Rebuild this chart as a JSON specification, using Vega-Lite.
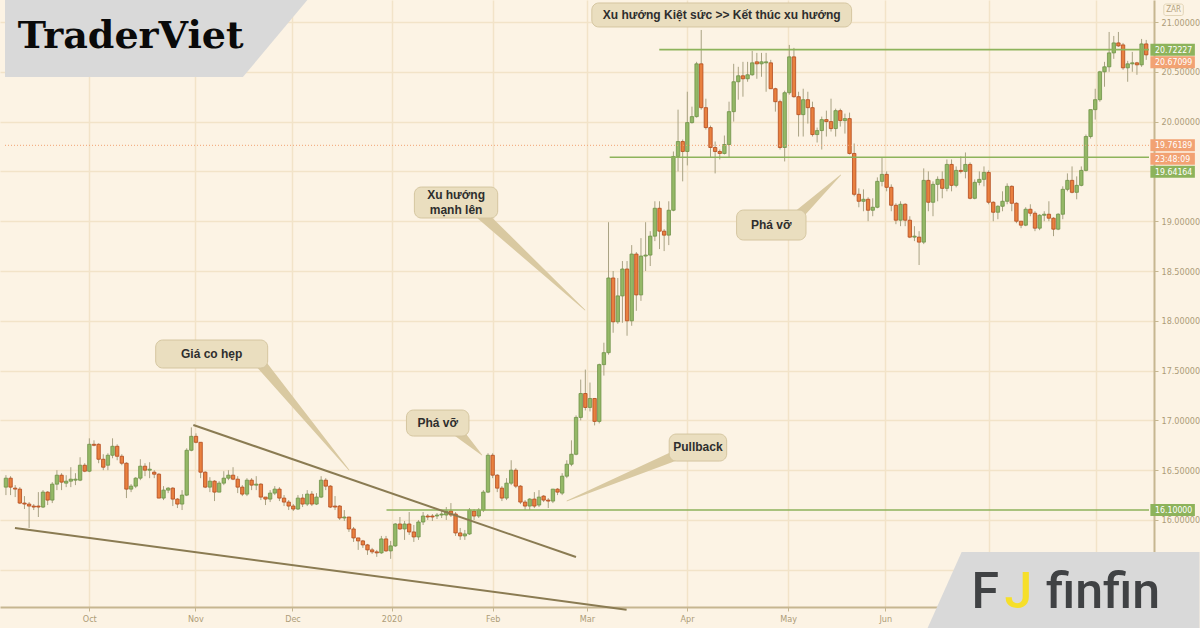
{
"$schema": "https://vega.github.io/schema/vega-lite/v6.json",
"width": 1154, "height": 607,
"autosize": {"type": "none"},
"padding": {"left": 0, "top": 0, "right": 46, "bottom": 21},
"background": "#fcf3e4",
"config": {"view": {"stroke": null}, "font": "Liberation Sans"},
"datasets": {
"candles": [
{"k":0,"o":16.33,"h":16.45,"l":16.25,"c":16.42},{"k":1,"o":16.42,"h":16.44,"l":16.25,"c":16.33},{"k":2,"o":16.32,"h":16.35,"l":16.23,"c":16.31},{"k":3,"o":16.31,"h":16.33,"l":16.16,"c":16.17},{"k":4,"o":16.17,"h":16.24,"l":16.11,"c":16.16},{"k":5,"o":16.16,"h":16.18,"l":15.92,"c":16.14},{"k":6,"o":16.14,"h":16.16,"l":16.1,"c":16.13},{"k":7,"o":16.14,"h":16.28,"l":16.03,"c":16.13},{"k":8,"o":16.13,"h":16.3,"l":16.12,"c":16.28},{"k":9,"o":16.28,"h":16.29,"l":16.15,"c":16.2},
{"k":10,"o":16.2,"h":16.38,"l":16.17,"c":16.36},{"k":11,"o":16.36,"h":16.5,"l":16.3,"c":16.45},{"k":12,"o":16.45,"h":16.47,"l":16.3,"c":16.38},{"k":13,"o":16.37,"h":16.45,"l":16.33,"c":16.39},{"k":14,"o":16.39,"h":16.53,"l":16.33,"c":16.41},{"k":15,"o":16.4,"h":16.47,"l":16.35,"c":16.41},{"k":16,"o":16.4,"h":16.63,"l":16.39,"c":16.55},{"k":17,"o":16.55,"h":16.57,"l":16.48,"c":16.49},{"k":18,"o":16.49,"h":16.82,"l":16.48,"c":16.76},{"k":19,"o":16.76,"h":16.8,"l":16.74,"c":16.75},
{"k":20,"o":16.76,"h":16.77,"l":16.57,"c":16.61},{"k":21,"o":16.61,"h":16.66,"l":16.5,"c":16.53},{"k":22,"o":16.55,"h":16.67,"l":16.5,"c":16.65},{"k":23,"o":16.65,"h":16.82,"l":16.62,"c":16.74},{"k":24,"o":16.74,"h":16.76,"l":16.6,"c":16.64},{"k":25,"o":16.64,"h":16.66,"l":16.55,"c":16.57},{"k":26,"o":16.57,"h":16.58,"l":16.22,"c":16.31},{"k":27,"o":16.31,"h":16.36,"l":16.28,"c":16.34},{"k":28,"o":16.34,"h":16.43,"l":16.32,"c":16.42},{"k":29,"o":16.42,"h":16.61,"l":16.4,"c":16.54},
{"k":30,"o":16.54,"h":16.57,"l":16.44,"c":16.5},{"k":31,"o":16.5,"h":16.58,"l":16.42,"c":16.51},{"k":32,"o":16.48,"h":16.5,"l":16.42,"c":16.46},{"k":33,"o":16.46,"h":16.47,"l":16.22,"c":16.22},{"k":34,"o":16.22,"h":16.34,"l":16.2,"c":16.3},{"k":35,"o":16.3,"h":16.33,"l":16.27,"c":16.32},{"k":36,"o":16.32,"h":16.33,"l":16.14,"c":16.21},{"k":37,"o":16.21,"h":16.22,"l":16.12,"c":16.16},{"k":38,"o":16.16,"h":16.3,"l":16.1,"c":16.25},{"k":39,"o":16.25,"h":16.72,"l":16.24,"c":16.7},
{"k":40,"o":16.7,"h":16.93,"l":16.69,"c":16.84},{"k":41,"o":16.84,"h":16.87,"l":16.77,"c":16.78},{"k":42,"o":16.78,"h":16.78,"l":16.42,"c":16.48},{"k":43,"o":16.48,"h":16.49,"l":16.32,"c":16.33},{"k":44,"o":16.33,"h":16.43,"l":16.28,"c":16.39},{"k":45,"o":16.39,"h":16.4,"l":16.19,"c":16.28},{"k":46,"o":16.28,"h":16.39,"l":16.28,"c":16.37},{"k":47,"o":16.37,"h":16.49,"l":16.35,"c":16.42},{"k":48,"o":16.42,"h":16.5,"l":16.4,"c":16.45},{"k":49,"o":16.45,"h":16.53,"l":16.4,"c":16.41},
{"k":50,"o":16.41,"h":16.44,"l":16.27,"c":16.33},{"k":51,"o":16.33,"h":16.35,"l":16.24,"c":16.26},{"k":52,"o":16.26,"h":16.42,"l":16.24,"c":16.4},{"k":53,"o":16.4,"h":16.42,"l":16.3,"c":16.35},{"k":54,"o":16.35,"h":16.44,"l":16.3,"c":16.36},{"k":55,"o":16.36,"h":16.37,"l":16.2,"c":16.23},{"k":56,"o":16.23,"h":16.23,"l":16.15,"c":16.21},{"k":57,"o":16.21,"h":16.3,"l":16.18,"c":16.27},{"k":58,"o":16.27,"h":16.34,"l":16.25,"c":16.31},{"k":59,"o":16.31,"h":16.33,"l":16.19,"c":16.22},
{"k":60,"o":16.22,"h":16.25,"l":16.14,"c":16.18},{"k":61,"o":16.18,"h":16.2,"l":16.1,"c":16.14},{"k":62,"o":16.14,"h":16.16,"l":16.09,"c":16.11},{"k":63,"o":16.11,"h":16.25,"l":16.1,"c":16.22},{"k":64,"o":16.22,"h":16.26,"l":16.13,"c":16.16},{"k":65,"o":16.16,"h":16.3,"l":16.14,"c":16.26},{"k":66,"o":16.26,"h":16.29,"l":16.14,"c":16.16},{"k":67,"o":16.16,"h":16.27,"l":16.15,"c":16.23},{"k":68,"o":16.23,"h":16.44,"l":16.22,"c":16.4},{"k":69,"o":16.4,"h":16.42,"l":16.3,"c":16.34},
{"k":70,"o":16.34,"h":16.35,"l":16.12,"c":16.13},{"k":71,"o":16.14,"h":16.24,"l":16.1,"c":16.13},{"k":72,"o":16.14,"h":16.15,"l":16.0,"c":16.02},{"k":73,"o":16.02,"h":16.1,"l":15.99,"c":16.03},{"k":74,"o":16.03,"h":16.03,"l":15.88,"c":15.91},{"k":75,"o":15.91,"h":15.93,"l":15.78,"c":15.82},{"k":76,"o":15.82,"h":15.82,"l":15.7,"c":15.79},{"k":77,"o":15.79,"h":15.8,"l":15.72,"c":15.75},{"k":78,"o":15.75,"h":15.76,"l":15.65,"c":15.7},{"k":79,"o":15.7,"h":15.72,"l":15.66,"c":15.68},
{"k":80,"o":15.68,"h":15.7,"l":15.63,"c":15.67},{"k":81,"o":15.67,"h":15.84,"l":15.66,"c":15.81},{"k":82,"o":15.81,"h":15.84,"l":15.68,"c":15.69},{"k":83,"o":15.69,"h":15.79,"l":15.61,"c":15.74},{"k":84,"o":15.74,"h":15.97,"l":15.73,"c":15.96},{"k":85,"o":15.96,"h":16.03,"l":15.9,"c":15.91},{"k":86,"o":15.91,"h":15.99,"l":15.8,"c":15.96},{"k":87,"o":15.96,"h":16.08,"l":15.85,"c":15.88},{"k":88,"o":15.88,"h":15.95,"l":15.78,"c":15.83},{"k":89,"o":15.83,"h":16.0,"l":15.8,"c":15.98},
{"k":90,"o":15.98,"h":16.08,"l":15.95,"c":16.04},{"k":91,"o":16.04,"h":16.06,"l":16.0,"c":16.03},{"k":92,"o":16.04,"h":16.06,"l":15.99,"c":16.03},{"k":93,"o":16.04,"h":16.07,"l":16.01,"c":16.05},{"k":94,"o":16.05,"h":16.1,"l":16.02,"c":16.06},{"k":95,"o":16.05,"h":16.13,"l":16.0,"c":16.09},{"k":96,"o":16.09,"h":16.17,"l":16.03,"c":16.05},{"k":97,"o":16.06,"h":16.08,"l":15.84,"c":15.87},{"k":98,"o":15.87,"h":15.92,"l":15.8,"c":15.84},{"k":99,"o":15.84,"h":15.9,"l":15.8,"c":15.86},
{"k":100,"o":15.86,"h":16.12,"l":15.85,"c":16.1},{"k":101,"o":16.09,"h":16.11,"l":16.0,"c":16.04},{"k":102,"o":16.04,"h":16.12,"l":16.02,"c":16.1},{"k":103,"o":16.1,"h":16.3,"l":16.08,"c":16.28},{"k":104,"o":16.28,"h":16.67,"l":16.27,"c":16.65},{"k":105,"o":16.65,"h":16.67,"l":16.42,"c":16.45},{"k":106,"o":16.45,"h":16.46,"l":16.28,"c":16.32},{"k":107,"o":16.32,"h":16.34,"l":16.19,"c":16.22},{"k":108,"o":16.22,"h":16.42,"l":16.2,"c":16.37},{"k":109,"o":16.37,"h":16.6,"l":16.35,"c":16.5},
{"k":110,"o":16.5,"h":16.52,"l":16.32,"c":16.34},{"k":111,"o":16.34,"h":16.35,"l":16.16,"c":16.18},{"k":112,"o":16.18,"h":16.2,"l":16.1,"c":16.14},{"k":113,"o":16.14,"h":16.22,"l":16.1,"c":16.21},{"k":114,"o":16.21,"h":16.28,"l":16.12,"c":16.14},{"k":115,"o":16.15,"h":16.3,"l":16.13,"c":16.23},{"k":116,"o":16.24,"h":16.25,"l":16.18,"c":16.2},{"k":117,"o":16.2,"h":16.22,"l":16.12,"c":16.19},{"k":118,"o":16.19,"h":16.31,"l":16.17,"c":16.31},{"k":119,"o":16.31,"h":16.32,"l":16.25,"c":16.28},
{"k":120,"o":16.27,"h":16.47,"l":16.25,"c":16.44},{"k":121,"o":16.44,"h":16.6,"l":16.42,"c":16.56},{"k":122,"o":16.56,"h":16.8,"l":16.54,"c":16.66},{"k":123,"o":16.66,"h":17.05,"l":16.65,"c":17.03},{"k":124,"o":17.03,"h":17.41,"l":17.0,"c":17.27},{"k":125,"o":17.27,"h":17.51,"l":17.1,"c":17.13},{"k":126,"o":17.13,"h":17.38,"l":17.09,"c":17.22},{"k":127,"o":17.22,"h":17.22,"l":16.95,"c":16.99},{"k":128,"o":16.99,"h":17.57,"l":16.97,"c":17.56},{"k":129,"o":17.56,"h":17.78,"l":17.45,"c":17.68},
{"k":130,"o":17.68,"h":18.99,"l":17.66,"c":18.43},{"k":131,"o":18.43,"h":18.5,"l":17.88,"c":17.99},{"k":132,"o":17.99,"h":18.43,"l":17.97,"c":18.25},{"k":133,"o":18.25,"h":18.6,"l":17.98,"c":18.52},{"k":134,"o":18.52,"h":18.6,"l":17.85,"c":18.0},{"k":135,"o":18.0,"h":18.76,"l":17.95,"c":18.67},{"k":136,"o":18.67,"h":18.69,"l":18.1,"c":18.26},{"k":137,"o":18.26,"h":18.83,"l":18.2,"c":18.65},{"k":138,"o":18.65,"h":18.99,"l":18.5,"c":18.66},{"k":139,"o":18.66,"h":18.9,"l":18.55,"c":18.85},
{"k":140,"o":18.85,"h":19.2,"l":18.8,"c":19.13},{"k":141,"o":19.13,"h":19.2,"l":18.72,"c":18.9},{"k":142,"o":18.9,"h":18.92,"l":18.7,"c":18.86},{"k":143,"o":18.86,"h":19.2,"l":18.76,"c":19.11},{"k":144,"o":19.11,"h":19.7,"l":19.1,"c":19.65},{"k":145,"o":19.65,"h":20.12,"l":19.5,"c":19.8},{"k":146,"o":19.8,"h":19.82,"l":19.4,"c":19.7},{"k":147,"o":19.7,"h":20.3,"l":19.56,"c":19.99},{"k":148,"o":19.99,"h":20.15,"l":19.98,"c":20.05},{"k":149,"o":20.05,"h":20.6,"l":20.04,"c":20.58},
{"k":150,"o":20.58,"h":20.92,"l":20.12,"c":20.14},{"k":151,"o":20.14,"h":20.23,"l":19.92,"c":19.94},{"k":152,"o":19.94,"h":19.96,"l":19.64,"c":19.74},{"k":153,"o":19.74,"h":19.8,"l":19.48,"c":19.7},{"k":154,"o":19.7,"h":19.72,"l":19.62,"c":19.68},{"k":155,"o":19.68,"h":19.86,"l":19.67,"c":19.77},{"k":156,"o":19.77,"h":20.2,"l":19.64,"c":20.1},{"k":157,"o":20.1,"h":20.58,"l":20.0,"c":20.4},{"k":158,"o":20.4,"h":20.55,"l":20.22,"c":20.46},{"k":159,"o":20.46,"h":20.6,"l":20.25,"c":20.43},
{"k":160,"o":20.43,"h":20.6,"l":20.4,"c":20.47},{"k":161,"o":20.47,"h":20.71,"l":20.46,"c":20.59},{"k":162,"o":20.6,"h":20.69,"l":20.43,"c":20.58},{"k":163,"o":20.58,"h":20.69,"l":20.45,"c":20.6},{"k":164,"o":20.59,"h":20.69,"l":20.3,"c":20.6},{"k":165,"o":20.59,"h":20.62,"l":20.33,"c":20.33},{"k":166,"o":20.33,"h":20.34,"l":20.1,"c":20.2},{"k":167,"o":20.2,"h":20.22,"l":19.72,"c":19.74},{"k":168,"o":19.74,"h":20.31,"l":19.6,"c":20.29},{"k":169,"o":20.29,"h":20.77,"l":20.27,"c":20.65},
{"k":170,"o":20.65,"h":20.74,"l":20.24,"c":20.25},{"k":171,"o":20.25,"h":20.3,"l":19.85,"c":20.07},{"k":172,"o":20.07,"h":20.33,"l":19.85,"c":20.22},{"k":173,"o":20.22,"h":20.3,"l":19.98,"c":20.14},{"k":174,"o":20.14,"h":20.2,"l":19.85,"c":19.87},{"k":175,"o":19.87,"h":19.94,"l":19.79,"c":19.91},{"k":176,"o":19.91,"h":20.05,"l":19.72,"c":20.02},{"k":177,"o":20.02,"h":20.11,"l":19.85,"c":20.0},{"k":178,"o":20.0,"h":20.23,"l":19.9,"c":19.93},{"k":179,"o":19.93,"h":20.13,"l":19.85,"c":20.11},
{"k":180,"o":20.11,"h":20.13,"l":19.95,"c":20.01},{"k":181,"o":20.01,"h":20.08,"l":19.88,"c":20.03},{"k":182,"o":20.03,"h":20.09,"l":19.67,"c":19.68},{"k":183,"o":19.68,"h":19.78,"l":19.25,"c":19.27},{"k":184,"o":19.27,"h":19.33,"l":19.14,"c":19.2},{"k":185,"o":19.2,"h":19.32,"l":19.1,"c":19.22},{"k":186,"o":19.22,"h":19.24,"l":19.0,"c":19.11},{"k":187,"o":19.11,"h":19.23,"l":19.05,"c":19.14},{"k":188,"o":19.14,"h":19.44,"l":19.13,"c":19.4},{"k":189,"o":19.4,"h":19.64,"l":19.35,"c":19.47},
{"k":190,"o":19.47,"h":19.5,"l":19.3,"c":19.34},{"k":191,"o":19.34,"h":19.37,"l":19.1,"c":19.16},{"k":192,"o":19.16,"h":19.18,"l":18.97,"c":19.01},{"k":193,"o":19.01,"h":19.2,"l":18.95,"c":19.17},{"k":194,"o":19.17,"h":19.18,"l":18.95,"c":19.01},{"k":195,"o":19.01,"h":19.05,"l":18.83,"c":18.84},{"k":196,"o":18.84,"h":18.95,"l":18.8,"c":18.85},{"k":197,"o":18.84,"h":18.9,"l":18.56,"c":18.79},{"k":198,"o":18.79,"h":19.53,"l":18.77,"c":19.41},{"k":199,"o":19.41,"h":19.5,"l":19.1,"c":19.19},
{"k":200,"o":19.19,"h":19.4,"l":19.05,"c":19.37},{"k":201,"o":19.37,"h":19.45,"l":19.2,"c":19.42},{"k":202,"o":19.42,"h":19.5,"l":19.23,"c":19.33},{"k":203,"o":19.33,"h":19.62,"l":19.3,"c":19.57},{"k":204,"o":19.57,"h":19.62,"l":19.3,"c":19.36},{"k":205,"o":19.36,"h":19.55,"l":19.34,"c":19.51},{"k":206,"o":19.51,"h":19.65,"l":19.48,"c":19.5},{"k":207,"o":19.5,"h":19.69,"l":19.43,"c":19.57},{"k":208,"o":19.57,"h":19.59,"l":19.22,"c":19.23},{"k":209,"o":19.23,"h":19.42,"l":19.22,"c":19.39},
{"k":210,"o":19.39,"h":19.5,"l":19.36,"c":19.42},{"k":211,"o":19.42,"h":19.55,"l":19.35,"c":19.49},{"k":212,"o":19.49,"h":19.51,"l":19.17,"c":19.19},{"k":213,"o":19.19,"h":19.2,"l":19.0,"c":19.09},{"k":214,"o":19.09,"h":19.16,"l":19.02,"c":19.15},{"k":215,"o":19.15,"h":19.3,"l":19.1,"c":19.2},{"k":216,"o":19.2,"h":19.38,"l":19.17,"c":19.35},{"k":217,"o":19.35,"h":19.36,"l":19.1,"c":19.18},{"k":218,"o":19.18,"h":19.19,"l":18.98,"c":19.0},{"k":219,"o":19.0,"h":19.0,"l":18.93,"c":18.96},
{"k":220,"o":18.96,"h":19.14,"l":18.95,"c":19.12},{"k":221,"o":19.12,"h":19.17,"l":19.05,"c":19.08},{"k":222,"o":19.08,"h":19.1,"l":18.9,"c":18.93},{"k":223,"o":18.93,"h":19.07,"l":18.91,"c":19.06},{"k":224,"o":19.06,"h":19.1,"l":19.0,"c":19.07},{"k":225,"o":19.07,"h":19.2,"l":19.0,"c":19.03},{"k":226,"o":19.03,"h":19.04,"l":18.85,"c":18.92},{"k":227,"o":18.92,"h":19.08,"l":18.91,"c":19.07},{"k":228,"o":19.07,"h":19.35,"l":19.02,"c":19.32},{"k":229,"o":19.32,"h":19.48,"l":19.3,"c":19.41},
{"k":230,"o":19.41,"h":19.55,"l":19.28,"c":19.29},{"k":231,"o":19.29,"h":19.45,"l":19.22,"c":19.36},{"k":232,"o":19.36,"h":19.55,"l":19.35,"c":19.51},{"k":233,"o":19.51,"h":19.87,"l":19.5,"c":19.85},{"k":234,"o":19.85,"h":20.12,"l":19.83,"c":20.12},{"k":235,"o":20.12,"h":20.33,"l":20.02,"c":20.22},{"k":236,"o":20.22,"h":20.51,"l":20.2,"c":20.5},{"k":237,"o":20.5,"h":20.6,"l":20.35,"c":20.55},{"k":238,"o":20.55,"h":20.9,"l":20.5,"c":20.69},{"k":239,"o":20.69,"h":20.86,"l":20.63,"c":20.79},
{"k":240,"o":20.79,"h":20.9,"l":20.75,"c":20.76},{"k":241,"o":20.77,"h":20.79,"l":20.52,"c":20.54},{"k":242,"o":20.54,"h":20.61,"l":20.4,"c":20.58},{"k":243,"o":20.58,"h":20.7,"l":20.5,"c":20.59},{"k":244,"o":20.59,"h":20.6,"l":20.47,"c":20.57},{"k":245,"o":20.57,"h":20.83,"l":20.55,"c":20.78},{"k":246,"o":20.78,"h":20.82,"l":20.62,"c":20.67}
],
"hlines": [
{"x1":140.95,"x2":246.6,"p":20.72227,"kind":"green"},
{"x1":130.25,"x2":246.6,"p":19.64164,"kind":"green"},
{"x1":82.1,"x2":246.6,"p":16.1,"kind":"green"},
{"x1":-0.2,"x2":246.6,"p":19.76189,"kind":"dot"}
],
"trends": [
{"x1":40.43,"p1":16.954,"x2":122.98,"p2":15.629},
{"x1":1.94,"p1":15.92,"x2":133.9,"p2":15.1}
],
"tails": [
{"g":"a","t":102.02,"p":19.09,"end":"base"},{"g":"a","t":124.91,"p":18.108,"end":"tip"},
{"g":"b","t":169.82,"p":19.012,"end":"base"},{"g":"b","t":180.08,"p":19.464,"end":"tip"},
{"g":"c","t":54.33,"p":17.606,"end":"base"},{"g":"c","t":74.01,"p":16.502,"end":"tip"},
{"g":"d","t":97.11,"p":16.904,"end":"base"},{"g":"d","t":102.67,"p":16.653,"end":"tip"},
{"g":"e","t":146.29,"p":16.683,"end":"base"},{"g":"e","t":121.06,"p":16.191,"end":"tip"}
],
"boxes": [
{"x1":126.4,"x2":182.44,"p1":21.191,"p2":20.95},
{"x1":88.12,"x2":106.09,"p1":19.343,"p2":19.032},
{"x1":157.63,"x2":172.6,"p1":19.112,"p2":18.811},
{"x1":32.31,"x2":56.47,"p1":17.807,"p2":17.526},
{"x1":86.41,"x2":99.89,"p1":17.104,"p2":16.843},
{"x1":143.09,"x2":155.49,"p1":16.863,"p2":16.592}
],
"notes": [
{"t":154.42,"p":21.07,"txt":"Xu hướng Kiệt sức >> Kết thúc xu hướng"},
{"t":97.11,"p":19.26,"txt":"Xu hướng"},
{"t":97.11,"p":19.115,"txt":"mạnh lên"},
{"t":165.11,"p":18.962,"txt":"Phá vỡ"},
{"t":44.39,"p":17.667,"txt":"Giá co hẹp"},
{"t":93.15,"p":16.974,"txt":"Phá vỡ"},
{"t":149.29,"p":16.728,"txt":"Pullback"}
],
"logo1": [
{"t":-0.2,"top":21.26,"bot":20.448},
{"t":51.13,"top":21.26,"bot":20.448},
{"t":65.03,"top":21.26,"bot":21.22}
],
"logo2": [
{"t":198.69,"top":14.9,"bot":14.9},
{"t":206.18,"top":15.679,"bot":14.9},
{"t":257.5,"top":15.679,"bot":14.9}
],
"plabels": [
{"p":20.72227,"v":"20.72227","kind":"g"},
{"p":20.596,"v":"20.67099","kind":"o"},
{"p":19.76189,"v":"19.76189","kind":"o"},
{"p":19.627,"v":"23:48:09","kind":"o"},
{"p":19.496,"v":"19.64164","kind":"g"},
{"p":16.1,"v":"16.10000","kind":"g"}
]
},
"layer": [
{
"data": {"name": "candles"},
"mark": {"type": "rule", "color": "#a9a283", "strokeWidth": 1},
"encoding": {
"x": {"field": "k", "type": "quantitative", "title": null,
"scale": {"domain": [-0.2, 246.6], "nice": false, "zero": false},
"axis": {"title": null, "orient": "bottom", "values": [17.98, 40.86, 61.82, 83.2, 105.02, 125.34, 146.94, 168.75, 189.71, 212.16, 235.26],
"labelExpr": "datum.value < 30 ? 'Oct' : datum.value < 50 ? 'Nov' : datum.value < 70 ? 'Dec' : datum.value < 90 ? '2020' : datum.value < 115 ? 'Feb' : datum.value < 135 ? 'Mar' : datum.value < 157 ? 'Apr' : datum.value < 180 ? 'May' : datum.value < 200 ? 'Jun' : ''",
"grid": true, "gridColor": "#f2e3c8", "gridWidth": 1.5, "domain": true, "domainColor": "#c6b690", "domainWidth": 2, "ticks": true, "tickColor": "#c6b690", "tickSize": 4,
"labels": true, "labelColor": "#ad9c78", "labelFontSize": 9, "labelPadding": 3, "labelFont": "DejaVu Sans Condensed"}},
"y": {"field": "l", "type": "quantitative", "title": null,
"scale": {"domain": [15.1265, 21.2209], "nice": false, "zero": false},
"axis": {"title": null, "orient": "right", "values": [15.5, 16, 16.5, 17, 17.5, 18, 18.5, 19, 19.5, 20, 20.5, 21],
"labelExpr": "datum.value == 19.5 || datum.value == 15.5 ? '' : format(datum.value, '.5f')",
"grid": true, "gridColor": "#f2e3c8", "gridWidth": 1.5, "domain": true, "domainColor": "#c6b690", "domainWidth": 2, "ticks": true, "tickColor": "#c6b690", "tickSize": 4,
"labels": true, "labelColor": "#ad9c78", "labelFontSize": 9, "labelPadding": 3, "labelFont": "DejaVu Sans Condensed"}},
"y2": {"field": "h"}
}
},
{
"data": {"name": "candles"},
"mark": {"type": "bar", "size": 3.4, "strokeWidth": 0.8},
"encoding": {
"x": {"field": "k", "type": "quantitative", "title": null},
"y": {"field": "o", "type": "quantitative", "title": null},
"y2": {"field": "c"},
"fill": {"condition": {"test": "datum.c >= datum.o", "value": "#94b866"}, "value": "#e9803f"},
"stroke": {"condition": {"test": "datum.c >= datum.o", "value": "#6f9247"}, "value": "#b34a1d"}
}
},
{
"data": {"name": "hlines"},
"mark": {"type": "rule"},
"encoding": {
"x": {"field": "x1", "type": "quantitative", "title": null},
"x2": {"field": "x2"},
"y": {"field": "p", "type": "quantitative", "title": null},
"color": {"field": "kind", "type": "nominal", "scale": {"domain": ["green", "dot"], "range": ["#8db35b", "#f2a273"]}, "legend": null},
"strokeWidth": {"field": "kind", "type": "nominal", "scale": {"domain": ["green", "dot"], "range": [1.6, 1]}, "legend": null},
"strokeDash": {"field": "kind", "type": "nominal", "scale": {"domain": ["green", "dot"], "range": [[1, 0], [1, 2]]}, "legend": null}
}
},
{
"data": {"name": "trends"},
"mark": {"type": "rule", "color": "#8a7b52", "strokeWidth": 2},
"encoding": {
"x": {"field": "x1", "type": "quantitative", "title": null},
"x2": {"field": "x2"},
"y": {"field": "p1", "type": "quantitative", "title": null},
"y2": {"field": "p2"}
}
},
{
"data": {"name": "tails"},
"mark": {"type": "trail", "color": "#d9c9a1"},
"encoding": {
"x": {"field": "t", "type": "quantitative", "title": null},
"y": {"field": "p", "type": "quantitative", "title": null},
"detail": {"field": "g"},
"size": {"field": "end", "type": "nominal", "scale": {"domain": ["base", "tip"], "range": [11, 0.8]}, "legend": null}
}
},
{
"data": {"name": "boxes"},
"mark": {"type": "rect", "fill": "#eadebf", "stroke": "#d5c6a0", "strokeWidth": 1, "cornerRadius": 7},
"encoding": {
"x": {"field": "x1", "type": "quantitative", "title": null},
"x2": {"field": "x2"},
"y": {"field": "p1", "type": "quantitative", "title": null},
"y2": {"field": "p2"}
}
},
{
"data": {"name": "notes"},
"mark": {"type": "text", "font": "Liberation Sans", "fontWeight": "bold", "fontSize": 12, "color": "#2e2e2e", "align": "center", "baseline": "middle"},
"encoding": {
"x": {"field": "t", "type": "quantitative", "title": null},
"y": {"field": "p", "type": "quantitative", "title": null},
"text": {"field": "txt"}
}
},
{
"data": {"name": "logo1"},
"mark": {"type": "area", "color": "#d9d9d9", "opacity": 1},
"encoding": {
"x": {"field": "t", "type": "quantitative", "title": null},
"y": {"field": "top", "type": "quantitative", "title": null},
"y2": {"field": "bot"}
}
},
{
"data": {"values": [{"t": 26.9, "p": 20.845, "s": "TraderViet"}]},
"mark": {"type": "text", "font": "DejaVu Serif", "fontWeight": "bold", "fontSize": 38, "color": "#0a0a0a", "align": "center", "baseline": "middle"},
"encoding": {
"x": {"field": "t", "type": "quantitative", "title": null},
"y": {"field": "p", "type": "quantitative", "title": null},
"text": {"field": "s"}
}
},
{
"data": {"name": "logo2"},
"mark": {"type": "area", "color": "#d9d9d9", "opacity": 1},
"encoding": {
"x": {"field": "t", "type": "quantitative", "title": null},
"y": {"field": "top", "type": "quantitative", "title": null},
"y2": {"field": "bot"}
}
},
{
"data": {"values": [{"t": 236.7, "p": 15.27, "s": "finfin", "c": "#404244"}, {"t": 211.3, "p": 15.27, "s": "F", "c": "#404244"}, {"t": 218.4, "p": 15.27, "s": "J", "c": "#f6df2a"}]},
"mark": {"type": "text", "font": "Roboto", "fontWeight": 500, "fontSize": 50, "align": "center", "baseline": "middle"},
"encoding": {
"x": {"field": "t", "type": "quantitative", "title": null},
"y": {"field": "p", "type": "quantitative", "title": null},
"text": {"field": "s"},
"color": {"field": "c", "type": "nominal", "scale": null}
}
},
{
"data": {"name": "plabels"},
"mark": {"type": "rule", "strokeWidth": 12, "strokeCap": "butt"},
"encoding": {
"x": {"datum": 246.9},
"x2": {"datum": 256.5},
"y": {"field": "p", "type": "quantitative", "title": null},
"color": {"field": "kind", "type": "nominal", "scale": {"domain": ["g", "o"], "range": ["#88ad52", "#e7864a"]}, "legend": null}
}
},
{
"data": {"name": "plabels"},
"mark": {"type": "text", "font": "DejaVu Sans Condensed", "fontSize": 8.7, "color": "white", "align": "left", "baseline": "middle"},
"encoding": {
"x": {"datum": 247.9},
"y": {"field": "p", "type": "quantitative", "title": null},
"text": {"field": "v"}
}
},
{
"data": {"values": [{"p1": 21.18, "p2": 21.065}]},
"mark": {"type": "rect", "fill": "#fcf3e4", "stroke": "#e2d4b6", "strokeWidth": 1, "cornerRadius": 2},
"encoding": {
"x": {"datum": 249.8},
"x2": {"datum": 254.0},
"y": {"field": "p1", "type": "quantitative", "title": null},
"y2": {"field": "p2"}
}
},
{
"data": {"values": [{"p": 21.122, "s": "ZAR"}]},
"mark": {"type": "text", "font": "DejaVu Sans Condensed", "fontSize": 8, "color": "#b3a27e", "align": "center", "baseline": "middle"},
"encoding": {
"x": {"datum": 251.9},
"y": {"field": "p", "type": "quantitative", "title": null},
"text": {"field": "s"}
}
}
]
}
